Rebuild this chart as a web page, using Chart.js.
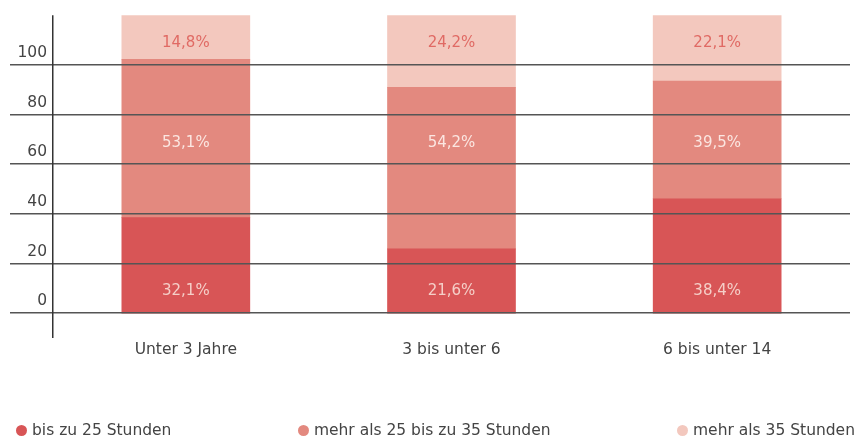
<!DOCTYPE html>
<html>
<head>
<meta charset="utf-8">
<script src="https://cdn.jsdelivr.net/npm/chart.js@4"></script>
<style>
  html, body { margin: 0; padding: 0; background: #fff; }
  #wrap { position: relative; width: 857px; height: 439px; }
  #legend { position: absolute; left: 16px; right: 2px; top: 420px; height: 20px;
    display: flex; justify-content: space-between; align-items: center;
    font-family: "DejaVu Sans", sans-serif; font-size: 15.5px; color: #444; }
  #legend .item { display: flex; align-items: center; white-space: nowrap; }
  #legend .dot { width: 11px; height: 11px; border-radius: 50%; margin-right: 5px; }
</style>
</head>
<body>
<div id="wrap">
  <canvas id="c" width="857" height="439"></canvas>
  <div id="legend"></div>
</div>
<script>
const categories = ["Unter 3 Jahre", "3 bis unter 6", "6 bis unter 14"];
const seriesNames = ["bis zu 25 Stunden", "mehr als 25 bis zu 35 Stunden", "mehr als 35 Stunden"];
const bisZu25 = [32.1, 21.6, 38.4];
const zwischen25und35 = [53.1, 54.2, 39.5];
const mehrAls35 = [14.8, 24.2, 22.1];
const yTickLabels = [0, 20, 40, 60, 80, 100];

const seriesColors = ["#D85556", "#E3897F", "#F3C8BE"];
const labelColors = ["#F5CFC8", "#FBE6E1", "#E06A64"];
const labelRowValues = [8.8, 68.6, 108.8];

const FONT = '"DejaVu Sans", sans-serif';
const GRID_COLOR = '#555';
const GRID_W = 1.5;
const TICK_EXT = 43;

function alignPx(p, w) { return Math.round(p - w / 2) + w / 2; }

const dataLabelPlugin = {
  id: 'segLabels',
  afterDatasetsDraw(chart) {
    const ctx = chart.ctx;
    const y2 = chart.scales.y2;
    ctx.save();
    ctx.font = '15px ' + FONT;
    ctx.textAlign = 'center';
    ctx.textBaseline = 'middle';
    chart.data.datasets.forEach((ds, di) => {
      const meta = chart.getDatasetMeta(di);
      meta.data.forEach((el, i) => {
        const v = ds.data[i];
        const txt = v.toFixed(1).replace('.', ',') + '%';
        ctx.fillStyle = labelColors[di];
        ctx.fillText(txt, el.x, y2.getPixelForValue(labelRowValues[di]));
      });
    });
    ctx.restore();
  }
};

const axisLinesPlugin = {
  id: 'axisLines',
  afterDraw(chart) {
    const s = chart.scales.y2, a = chart.chartArea, ctx = chart.ctx;
    ctx.save();
    ctx.lineWidth = GRID_W;
    ctx.strokeStyle = GRID_COLOR;
    s.ticks.forEach(t => {
      const y = alignPx(s.getPixelForValue(t.value), GRID_W);
      ctx.beginPath();
      ctx.moveTo(a.left - TICK_EXT, y);
      ctx.lineTo(a.left, y);
      ctx.stroke();
    });
    ctx.strokeStyle = '#333';
    const x = alignPx(a.left, GRID_W);
    ctx.beginPath();
    ctx.moveTo(x, a.top);
    ctx.lineTo(x, a.bottom);
    ctx.stroke();
    ctx.restore();
  }
};

const chart = new Chart(document.getElementById('c'), {
  type: 'bar',
  data: {
    labels: categories,
    datasets: [
      { label: seriesNames[0], data: bisZu25, backgroundColor: seriesColors[0], yAxisID: 'y' },
      { label: seriesNames[1], data: zwischen25und35, backgroundColor: seriesColors[1], yAxisID: 'y' },
      { label: seriesNames[2], data: mehrAls35, backgroundColor: seriesColors[2], yAxisID: 'y' }
    ]
  },
  options: {
    responsive: false,
    animation: false,
    layout: { padding: { top: 14, right: 7, bottom: 61, left: 0 } },
    datasets: { bar: { barThickness: 128, borderWidth: 0 } },
    plugins: { legend: { display: false }, tooltip: { enabled: false } },
    scales: {
      x: {
        stacked: true,
        grid: { display: false, drawTicks: false },
        border: { display: false },
        ticks: { color: '#444', font: { family: FONT, size: 15.5 }, padding: 3 },
        afterFit: s => { s.height = 40; }
      },
      y: {
        stacked: true,
        display: false,
        min: -100 / 12,
        max: 100
      },
      y2: {
        position: 'left',
        min: -10,
        max: 120,
        afterBuildTicks: s => { s.ticks = yTickLabels.map(v => ({ value: v })); },
        afterFit: s => { s.width = 53; },
        grid: { color: GRID_COLOR, lineWidth: GRID_W, drawTicks: false, z: 1 },
        border: { display: false },
        ticks: { color: '#444', font: { family: FONT, size: 15.5 }, padding: 6, labelOffset: -12 }
      }
    }
  },
  plugins: [dataLabelPlugin, axisLinesPlugin]
});

const legendEl = document.getElementById('legend');
chart.data.datasets.forEach(ds => {
  const item = document.createElement('div');
  item.className = 'item';
  const dot = document.createElement('span');
  dot.className = 'dot';
  dot.style.background = ds.backgroundColor;
  const txt = document.createElement('span');
  txt.textContent = ds.label;
  item.appendChild(dot);
  item.appendChild(txt);
  legendEl.appendChild(item);
});
</script>
</body>
</html>
